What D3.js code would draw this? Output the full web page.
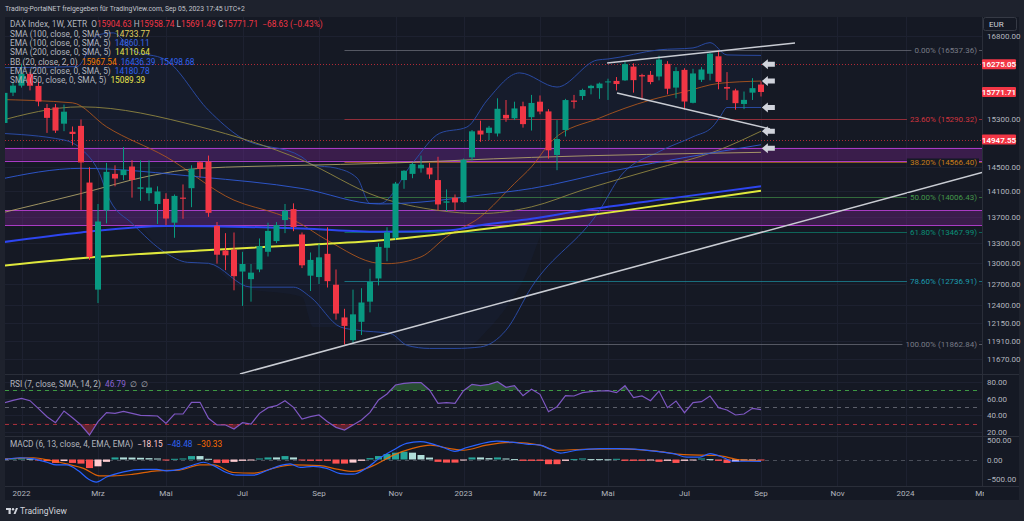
<!DOCTYPE html>
<html lang="de">
<head>
<meta charset="UTF-8">
<script src="https://d3js.org/d3.v7.min.js"></script>
<title>DAX Index 1W</title>
<style>
  body { margin: 0; background: #1e222d; overflow: hidden; }
  svg text { font-family: Roboto, "Open Sans", sans-serif; white-space: pre; }
</style>
</head>
<body>
<div id="chart"></div>
<script>
// weekly candles, first one is the week of Dec 20, 2021 (week index -2, Jan 3 2022 = 0)
const firstWeek = -2;
const opens  = [15230,15760,15885,16097,15880,15490,15500,15218,15080,15180,14240,12620,13800,14380,14360,14500,14140,14070,13900,13980,13610,14000,14150,14570,14580,13560,13190,13200,12880,12770,12910,13170,13330,13650,13820,13430,12820,12800,13140,12690,12230,11920,12170,12450,12780,13230,13380,14280,14380,14470,14480,14280,13920,14000,13930,14650,15100,15060,15050,15370,15310,15520,15330,15600,15430,14690,15110,15620,15700,15840,15840,15955,15970,15980,16230,16075,16080,16050,16280,15850,16170,15580,15990,16100,16420,15860,15800,15560,15760,15904.63];
const highs  = [15800,15950,16285,16130,15950,15560,15560,15550,15170,15290,14490,13900,14560,14520,14820,14605,14600,14600,14180,14070,14050,14210,14520,14590,14680,13620,13450,13460,13170,12990,13370,13610,13620,13900,13910,13460,13160,13290,13540,12910,12350,12620,12640,12920,13300,13540,14250,14440,14560,14680,14560,14660,14130,14050,14630,15110,15270,15180,15660,15630,15600,15600,15720,15710,15470,15280,15650,15720,15830,15900,15940,16010,16040,16330,16290,16100,16150,16430,16330,16220,16200,16190,16220,16490,16537,16130,15830,15780,16020,15958.74];
const lows   = [15150,15700,15850,15800,15520,15060,15060,15090,14850,13807,13050,12430,13600,14180,14280,14000,13950,13950,13590,13570,13380,13670,13850,14320,13700,12995,12900,12610,12390,12450,12870,13100,13300,13450,13480,12930,12600,12700,12650,12200,11862,11880,11990,12300,12680,13030,13350,14140,14310,14400,14300,13800,13790,13790,13920,14600,14910,14940,15000,15250,15280,15150,15100,15380,14630,14440,15000,15480,15630,15730,15650,15630,15800,15970,15760,15630,15910,15980,15730,15660,15460,15570,15950,15980,15820,15630,15460,15470,15630,15691.49];
const closes = [15756,15885,16097,15883,15603,15318,15100,15425,15042,14567,13094,13628,14413,14305,14446,14283,14163,14160,14098,13674,14027,13982,14462,14460,13762,13127,13118,12813,12990,12864,13254,13484,13573,13795,13544,12971,13050,13088,12741,12284,12114,12273,12438,12731,13243,13460,14224,14431,14541,14529,14371,13893,13941,13924,14610,15087,15033,15150,15476,15308,15482,15210,15578,15428,14768,14957,15629,15598,15808,15882,15922,15961,15914,16275,15984,16051,15950,16358,15830,16148,15603,16105,16177,16470,15952,15832,15574,15632,15840.34,15771.71];

// indicator lines: [week index, value]
const sma50  = [[-3,15250],[7,15510],[21,15165],[33,14605],[42,14010],[49,13800],[54,13750],[60,13855],[66,14120],[74,14440],[82,14770],[87,15089.39]];
const sma100 = [[-3,13740],[7,14065],[15,14345],[21,14470],[33,14520],[42,14550],[60,14650],[87,14733.77]];
const ema100 = [[-3,14280],[7,14470],[21,14330],[33,14145],[42,13900],[47,13930],[54,14040],[60,14145],[70,14440],[87,14860.11]];
const sma200 = [[-3,12955],[9,13095],[21,13190],[33,13270],[42,13340],[50,13445],[60,13605],[71,13800],[87,14110.64]];
const ema200 = [[-3,13300],[7,13460],[17,13560],[33,13520],[42,13470],[50,13490],[54,13570],[60,13670],[66,13800],[77,14000],[87,14180.78]];
const bbBasis = [[-3,15640],[6,15580],[10,15165],[17,14660],[25,13960],[30,13750],[32,13650],[36,13340],[42,13000],[43,12995],[47,13095],[50,13395],[54,13700],[58,14225],[60,14495],[62.5,14940],[68,15315],[74,15630],[78,15775],[82,15925],[87,15967.54]];
const bbUpper = [[-3,16210],[6.5,16230],[9,16820],[10.8,16860],[13,16540],[17,16350],[22,15450],[25.7,14990],[33,14655],[34.3,14525],[37,14475],[39.5,14310],[41,13910],[42.2,13910],[46,14555],[49.2,15055],[52.4,15160],[54.8,15630],[58.6,16115],[63,15860],[67.7,16350],[69,16370],[75,16540],[79,16575],[81,16675],[83,16445],[87,16436.39]];
const bbLower = [[-3,15057],[5,14940],[7.2,14770],[9,14440],[10.4,13960],[13,13600],[17,13150],[19.5,13015],[22,13000],[27,12655],[32,12655],[34,12515],[37.5,12100],[39.5,12055],[43.4,12010],[45.4,11850],[48,11810],[51,11810],[54,11830],[57,12055],[60,12655],[68,13800],[70.4,14330],[75,14745],[79,14995],[81.3,15165],[82.2,15340],[83,15498],[87,15498.68]];

const rsiValues = [55,58,60.4,57.6,48,38.4,31.2,45.2,37,28.4,16.4,32.4,43.2,42.4,44.8,42.4,40,39.6,39.2,30.4,41.6,41.6,55.6,55.6,36.4,28.4,28.4,23.6,31.2,29.6,42.4,49.2,51.6,57.6,49.6,35.6,38.4,40.4,32.4,25.6,22.4,28.4,34.4,43.6,58.4,65.6,76.4,78.4,79.2,79.2,70.4,54.4,55.2,54.4,69.6,77.2,75.6,77.2,80.4,73.6,75.6,63.6,71.2,65.2,44.4,50.4,63.6,63.2,67.2,68.4,69.2,69.6,67.2,75.6,61.2,63.2,57.6,69.2,49.2,57.2,43.2,55.2,56.4,63.2,49.2,46.4,40.4,41.6,48.4,46.79];
const macdHist = [20,25,30,20,-20,-40,-88,-40,-88,-105,-220,-175,-60,53,53,50,44,35,26,-18,18,26,88,88,18,-88,-88,-60,-35,-18,26,53,53,88,53,-18,-35,-35,-35,-105,-105,-80,-35,35,88,140,175,200,175,115,50,-60,-80,-80,-10,53,53,35,53,26,10,-35,-35,-35,-120,-120,-35,10,26,10,10,5,18,-35,-35,-35,-20,-60,-35,-88,-35,-5,26,10,-35,-88,-60,-18,-10,-18.15];
const macdLine = [[-2,0],[-0.2,45],[1.4,18],[3,-70],[4.1,-140],[5.3,-140],[6.7,-290],[7.9,-508],[8.8,-580],[10,-447],[12,-316],[14.3,-255],[15.9,-255],[17.1,-290],[18.6,-255],[20.2,-140],[21.4,-70],[22.6,-158],[24.1,-333],[25.3,-403],[27.3,-403],[28.8,-290],[30.4,-158],[31.6,-114],[32.8,-202],[34.3,-175],[35.9,-228],[37.5,-360],[39,-377],[40.6,-219],[42.2,45],[43.7,237],[45.3,412],[46.9,456],[48.1,412],[49.6,307],[51,210],[52.4,307],[53.9,395],[55.9,473],[57.9,439],[59.4,395],[61,368],[62.2,263],[63.4,166],[65.3,237],[68.1,281],[70.4,281],[72.8,255],[74.7,210],[76.7,150],[78.3,61],[79.8,61],[81,150],[82.6,45],[83.7,-45],[85.3,-45],[87,-48.48]];
const signalLine = [[-2,10],[1.4,45],[3.4,-26],[5.3,-114],[7.3,-228],[9.2,-420],[10.8,-420],[13.2,-377],[15.9,-290],[18.6,-272],[21,-140],[22.6,-140],[24.9,-333],[27.3,-351],[30,-202],[31.9,-140],[35.1,-158],[37.1,-245],[39,-307],[41.4,-158],[43.7,105],[46.1,290],[48.1,368],[50.4,281],[52,237],[54.7,368],[57.9,439],[61,368],[63,237],[66.1,263],[70,271],[74.5,219],[77.9,123],[81.8,105],[84.5,-8],[87,-30.33]];

const fibPercents = [0, 23.6, 38.2, 50, 61.8, 78.6, 100];
const fibPrices = [16537.36, 15290.32, 14566.40, 14006.43, 13467.99, 12736.91, 11862.84];
const fibStartWeek = 38;
const zones = [[14812, 14595], [13803, 13572]];
const dottedLevels = [16275.05, 14947.55];
const tagPrices = [16275.05, 15771.71, 14947.55];
const trendLines = [[[25.7, 11475], [113, 14404]], [[68.9, 16296], [91, 16668]], [[70.06, 15755], [88.06, 15127]]];
const arrowWeek = 87.1;
const arrowPrices = [16275, 15968, 15499, 15089, 14800];

const priceTicks = [16800, 15300, 14500, 14100, 13700, 13300, 13000, 12700, 12400, 12150, 11910, 11670];
const rsiTicks = [80, 60, 40, 20];
const rsiLevels = [70, 50, 30];
const macdTicks = [500, 0, -500];
const timeTickWeeks = [0, 9, 17, 26, 35, 44, 52, 61, 69, 78, 87, 96, 104, 113];
const timeTickLabels = ["2022", "Mrz", "Mai", "Jul", "Sep", "Nov", "2023", "Mrz", "Mai", "Jul", "Sep", "Nov", "2024", "Mrz"];

// layout
const W = 1024, H = 521;
const L = 5, R = 982, AX = 1019;
const mainTop = 17, mainBot = 374, rsiBot = 436, macdBot = 486, frameBot = 500;
const up = "#089981", down = "#f23645", grey = "#b2b5be";

const x = d3.scaleLinear().domain([0, 87]).range([21.5, 761]);
const yP = d3.scaleLog().domain([16800, 11670]).range([36, 359]);
const yR = d3.scaleLinear().domain([80, 20]).range([382, 432]);
const yM = d3.scaleLinear().domain([500, -500]).range([440, 479]);
const snap = v => Math.round(v) + 0.5; // crisp horizontal rules

const svg = d3.select("#chart").append("svg").attr("width", W).attr("height", H);
svg.append("rect").attr("width", W).attr("height", H).attr("fill", "#1e222d");
svg.append("rect").attr("x", L).attr("y", mainTop).attr("width", AX - L).attr("height", frameBot - mainTop).attr("fill", "#151924");

const defs = svg.append("defs");
const clip = (id, y0, y1) => defs.append("clipPath").attr("id", id).append("rect")
    .attr("x", L).attr("y", y0).attr("width", R - L).attr("height", y1 - y0);
clip("cMain", mainTop, mainBot);
clip("cRsi", mainBot, rsiBot);
clip("cMacd", rsiBot, macdBot);
defs.append("clipPath").attr("id", "cOb").append("rect").attr("x", L).attr("y", mainBot).attr("width", R - L).attr("height", yR(70) - mainBot);
defs.append("clipPath").attr("id", "cOs").append("rect").attr("x", L).attr("y", yR(30)).attr("width", R - L).attr("height", rsiBot - yR(30));
defs.append("clipPath").attr("id", "cTime").append("rect").attr("x", L).attr("y", macdBot).attr("width", 984 - L).attr("height", frameBot - macdBot);

// grid
const grid = svg.append("g").attr("stroke", "#1d2130").attr("stroke-width", 1);
timeTickWeeks.forEach(w => {
    if (x(w) < R) grid.append("line").attr("x1", snap(x(w))).attr("x2", snap(x(w))).attr("y1", mainTop).attr("y2", macdBot);
});
priceTicks.forEach(p => grid.append("line").attr("x1", L).attr("x2", R).attr("y1", snap(yP(p))).attr("y2", snap(yP(p))));
rsiTicks.forEach(v => grid.append("line").attr("x1", L).attr("x2", R).attr("y1", snap(yR(v))).attr("y2", snap(yR(v))));

// pane separators
const sep = svg.append("g").attr("stroke", "#2a2e39");
[mainBot, rsiBot, macdBot].forEach(y => sep.append("line").attr("x1", L).attr("x2", AX).attr("y1", y + 0.5).attr("y2", y + 0.5));
sep.append("line").attr("x1", R + 0.5).attr("x2", R + 0.5).attr("y1", mainTop).attr("y2", macdBot);

// ---------- main pane ----------
const main = svg.append("g").attr("clip-path", "url(#cMain)");

zones.forEach(([a, b]) => {
    main.append("rect").attr("x", L).attr("width", R - L).attr("y", yP(a)).attr("height", yP(b) - yP(a))
        .attr("fill", "#9c27b0").attr("fill-opacity", 0.28);
    [a, b].forEach(p => main.append("line").attr("x1", L).attr("x2", R).attr("y1", snap(yP(p))).attr("y2", snap(yP(p)))
        .attr("stroke", "#a93bc4").attr("stroke-width", 1.2));
});

// bollinger fill
const bbArea = d3.area().x(d => x(d[0])).y0(d => yP(d[1])).y1(d => yP(d[2])).curve(d3.curveMonotoneX);
const lowerAt = w => {
    const i = bbLower.findIndex(d => d[0] >= w);
    return i <= 0 ? bbLower[0][1] : bbLower[i][1];
};
main.append("path").datum(bbUpper.map(d => [d[0], d[1], lowerAt(d[0])]))
    .attr("d", bbArea).attr("fill", "#2962ff").attr("fill-opacity", 0.04);

const fibColors = ["#787b86", "#d0343f", "#c67c18", "#43974a", "#0a8f77", "#1b9cae", "#787b86"];
fibPrices.forEach((p, i) => {
    main.append("line").attr("x1", x(fibStartWeek)).attr("x2", R).attr("y1", snap(yP(p))).attr("y2", snap(yP(p)))
        .attr("stroke", fibColors[i]).attr("stroke-opacity", 0.65);
});

dottedLevels.forEach(p => main.append("line").attr("x1", L).attr("x2", R).attr("y1", snap(yP(p))).attr("y2", snap(yP(p)))
    .attr("stroke", "#b02a36").attr("stroke-dasharray", "1,2"));

const pLine = d3.line().x(d => x(d[0])).y(d => yP(d[1])).curve(d3.curveMonotoneX);
const drawLine = (data, color, width, op) => main.append("path").datum(data).attr("d", pLine)
    .attr("fill", "none").attr("stroke", color).attr("stroke-width", width).attr("stroke-opacity", op);
drawLine(bbUpper, "#2a4ca8", 1, 0.95);
drawLine(bbLower, "#2a4ca8", 1, 0.95);
drawLine(bbBasis, "#b4581c", 1, 0.85);
drawLine(sma50, "#8f8540", 1, 0.9);
drawLine(sma100, "#b6a86c", 1, 0.85);
drawLine(ema100, "#2f5ad6", 1, 0.9);
drawLine(ema200, "#2d45f0", 2, 1);
drawLine(sma200, "#dfe83c", 2, 1);

// candles
const candles = opens.map((o, i) => ({ w: i + firstWeek, o, h: highs[i], l: lows[i], c: closes[i] }));
const gC = main.append("g");
gC.selectAll("line").data(candles).join("line")
    .attr("x1", d => x(d.w)).attr("x2", d => x(d.w))
    .attr("y1", d => yP(d.h)).attr("y2", d => yP(d.l))
    .attr("stroke", d => d.c >= d.o ? up : down);
gC.selectAll("rect").data(candles).join("rect")
    .attr("x", d => x(d.w) - 3).attr("width", 6)
    .attr("y", d => yP(Math.max(d.o, d.c)))
    .attr("height", d => Math.max(1, Math.abs(yP(d.o) - yP(d.c))))
    .attr("fill", d => d.c >= d.o ? up : down);

// trend lines
trendLines.forEach(t => main.append("path").datum(t).attr("d", d3.line().x(d => x(d[0])).y(d => yP(d[1])))
    .attr("stroke", "#c9ccd3").attr("stroke-width", 1.5).attr("fill", "none"));

// arrows
arrowPrices.forEach(p => main.append("path")
    .attr("d", "M0,0 L6,-5 L6,-2.5 L13,-2.5 L13,2.5 L6,2.5 L6,5 Z")
    .attr("transform", `translate(${x(arrowWeek)},${yP(p)})`)
    .attr("fill", "#d1d4dc"));

// fib labels
fibPrices.forEach((p, i) => {
    const g = main.append("g");
    const bg = g.append("rect").attr("fill", "#151924");
    const t = g.append("text").attr("x", 977).attr("y", yP(p) + 3).attr("text-anchor", "end")
        .attr("font-size", 8).attr("fill", fibColors[i])
        .text(`${fibPercents[i].toFixed(2)}% (${p.toFixed(2)})`);
    const len = t.node().getComputedTextLength();
    bg.attr("x", 977 - len - 3).attr("width", len + 5).attr("y", yP(p) - 4).attr("height", 8);
});

// ---------- RSI pane ----------
const rsi = svg.append("g").attr("clip-path", "url(#cRsi)");
const rsiLevelColors = ["#3e9a43", "#5d606b", "#a3303b"];
rsiLevels.forEach((v, i) => rsi.append("line").attr("x1", L).attr("x2", 978).attr("y1", snap(yR(v))).attr("y2", snap(yR(v)))
    .attr("stroke", rsiLevelColors[i]).attr("stroke-dasharray", "4,4"));
const rsiData = rsiValues.map((v, i) => [i + firstWeek, v]);
rsi.append("path").datum(rsiData).attr("clip-path", "url(#cOb)")
    .attr("d", d3.area().x(d => x(d[0])).y0(yR(70)).y1(d => yR(d[1])))
    .attr("fill", "#4caf50").attr("fill-opacity", 0.35);
rsi.append("path").datum(rsiData).attr("clip-path", "url(#cOs)")
    .attr("d", d3.area().x(d => x(d[0])).y0(yR(30)).y1(d => yR(d[1])))
    .attr("fill", "#f23645").attr("fill-opacity", 0.35);
rsi.append("path").datum(rsiData).attr("d", d3.line().x(d => x(d[0])).y(d => yR(d[1])))
    .attr("fill", "none").attr("stroke", "#7e57c2").attr("stroke-width", 1.2);

// ---------- MACD pane ----------
const macd = svg.append("g").attr("clip-path", "url(#cMacd)");
macd.append("line").attr("x1", L).attr("x2", 978).attr("y1", snap(yM(0))).attr("y2", snap(yM(0)))
    .attr("stroke", "#4a4e59").attr("stroke-dasharray", "4,4");
macd.selectAll("rect").data(macdHist).join("rect")
    .attr("x", (v, i) => x(i + firstWeek) - 3.5).attr("width", 7)
    .attr("y", v => yM(Math.max(0, v))).attr("height", v => Math.max(1, Math.abs(yM(v) - yM(0))))
    .attr("fill", (v, i) => {
        const prev = i > 0 ? macdHist[i - 1] : v;
        if (v >= 0) return prev < v ? "#26a69a" : "#b2dfdb";
        return prev < v ? "#ffcdd2" : "#ff5252";
    });
const mLine = d3.line().x(d => x(d[0])).y(d => yM(d[1])).curve(d3.curveMonotoneX);
macd.append("path").datum(signalLine).attr("d", mLine).attr("fill", "none").attr("stroke", "#ff6d00").attr("stroke-opacity", 0.85).attr("stroke-width", 1.2);
macd.append("path").datum(macdLine).attr("d", mLine).attr("fill", "none").attr("stroke", "#2962ff").attr("stroke-width", 1.2);

// ---------- axes ----------
const axisText = (xx, y, s, color = grey) => svg.append("text").attr("x", xx).attr("y", y + 3)
    .attr("font-size", 8).attr("fill", color).text(s);
priceTicks.forEach(p => axisText(987, yP(p), p.toFixed(2)));
rsiTicks.forEach(v => axisText(987, yR(v), v.toFixed(2)));
macdTicks.forEach(v => axisText(987, yM(v), v < 0 ? "\u2212" + Math.abs(v).toFixed(2) : v.toFixed(2)));

tagPrices.forEach(p => {
    svg.append("rect").attr("x", R).attr("y", yP(p) - 5).attr("width", 34).attr("height", 10).attr("rx", 1).attr("fill", "#f23645");
    svg.append("text").attr("x", R + 17).attr("y", yP(p) + 3).attr("text-anchor", "middle")
        .attr("font-size", 8).attr("font-weight", 600).attr("fill", "#ffffff").text(p.toFixed(2));
});

svg.append("rect").attr("x", 983.5).attr("y", 17.5).attr("width", 33).attr("height", 13).attr("rx", 2)
    .attr("fill", "#151924").attr("stroke", "#363a45");
svg.append("text").attr("x", 989).attr("y", 27).attr("font-size", 8).attr("fill", "#d1d4dc").text("EUR");

const tg = svg.append("g").attr("clip-path", "url(#cTime)");
timeTickWeeks.forEach((w, i) => tg.append("text").attr("x", x(w)).attr("y", 496).attr("text-anchor", "middle")
    .attr("font-size", 8).attr("fill", grey).text(timeTickLabels[i]));

// ---------- legends ----------
const legendRow = (y, parts) => {
    const t = svg.append("text").attr("x", 10).attr("y", y).attr("font-size", 8.3);
    parts.forEach(([s, c]) => t.append("tspan").attr("fill", c).text(s));
};
const last = opens.length - 1;
const chg = closes[last] - closes[last - 1];
const fmtSigned = v => (v < 0 ? "\u2212" : "+") + Math.abs(v).toFixed(2);
const lastOf = arr => arr[arr.length - 1][1].toFixed(2);
legendRow(27, [["DAX Index, 1W, XETR  ", grey], ["O", grey], [opens[last].toFixed(2) + " ", down], ["H", grey], [highs[last].toFixed(2) + " ", down],
    ["L", grey], [lows[last].toFixed(2) + " ", down], ["C", grey], [closes[last].toFixed(2) + "  ", down],
    [`${fmtSigned(chg)} (${fmtSigned(chg / closes[last - 1] * 100)}%)`, down]]);
legendRow(36.5, [["SMA (100, close, 0, SMA, 5)  ", grey], [lastOf(sma100), "#e2d35e"]]);
legendRow(45.5, [["EMA (100, close, 0, SMA, 5)  ", grey], [lastOf(ema100), "#3b67e6"]]);
legendRow(55, [["SMA (200, close, 0, SMA, 5)  ", grey], [lastOf(sma200), "#e8e34a"]]);
legendRow(64.5, [["BB (20, close, 2, 0)  ", grey], [lastOf(bbBasis) + "  ", "#f57c00"], [lastOf(bbUpper) + "  ", "#2f62f0"], [lastOf(bbLower), "#2f62f0"]]);
legendRow(74, [["EMA (200, close, 0, SMA, 5)  ", grey], [lastOf(ema200), "#2f62f0"]]);
legendRow(83, [["SMA (50, close, 0, SMA, 5)  ", grey], [lastOf(sma50), "#e8e34a"]]);

legendRow(mainBot + 13, [["RSI (7, close, SMA, 14, 2)  ", grey], [rsiValues[last].toFixed(2) + "  ", "#8a63d2"], ["\u2205  \u2205", grey]]);
legendRow(rsiBot + 11, [["MACD (6, 13, close, 4, EMA, EMA)  ", grey], [fmtSigned(macdHist[last]) + "  ", "#ffcdd2"],
    [fmtSigned(macdLine[macdLine.length - 1][1]) + "  ", "#2f62f0"], [fmtSigned(signalLine[signalLine.length - 1][1]), "#ff6d00"]]);

// header and footer
svg.append("text").attr("x", 5).attr("y", 10.5).attr("font-size", 6.8).attr("fill", "#c3c6ce")
    .text("Trading-PortalNET freigegeben für TradingView.com, Sep 05, 2023 17:45 UTC+2");
const logo = svg.append("g").attr("fill", "#d1d4dc");
logo.append("rect").attr("x", 6).attr("y", 508).attr("width", 5).attr("height", 2);
logo.append("rect").attr("x", 8.5).attr("y", 508).attr("width", 2.2).attr("height", 6);
logo.append("circle").attr("cx", 13).attr("cy", 509.2).attr("r", 1.2);
logo.append("path").attr("d", "M13.5,514 L16,508 L18,508 L15.5,514 Z");
svg.append("text").attr("x", 20).attr("y", 514).attr("font-size", 8.5).attr("fill", "#d1d4dc").text("TradingView");
</script>
</body>
</html>
